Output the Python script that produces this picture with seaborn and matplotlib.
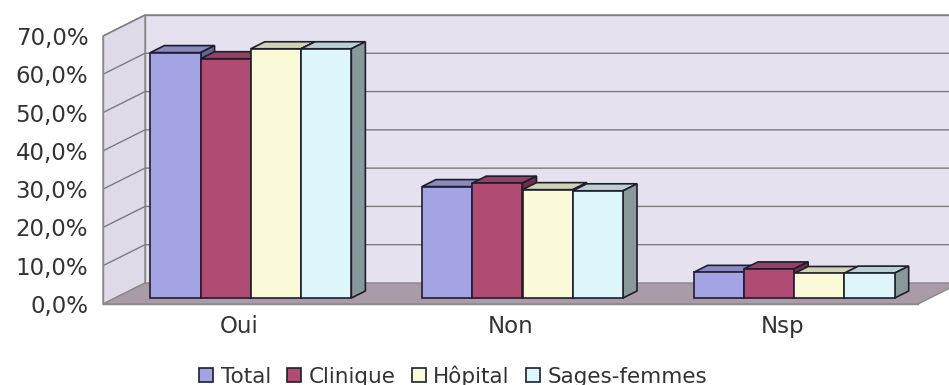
import matplotlib
matplotlib.use("Agg")
import matplotlib.pyplot as plt
import matplotlib.colors as mcolors
from matplotlib.patches import Polygon, Patch
import pandas as pd
import seaborn as sns

# ---- data -------------------------------------------------------------
categories = ["Oui", "Non", "Nsp"]
series = ["Total", "Clinique", "Hôpital", "Sages-femmes"]
total = [64.1, 29.1, 6.7]
clinique = [62.5, 30.0, 7.6]
hopital = [65.1, 28.3, 6.4]
sages_femmes = [65.1, 28.0, 6.5]
y_ticks = [0, 10, 20, 30, 40, 50, 60, 70]
y_tick_labels = ["0,0%", "10,0%", "20,0%", "30,0%", "40,0%", "50,0%", "60,0%", "70,0%"]
colors = ["#a4a4e4", "#b04c74", "#fafad8", "#dcf6fc"]

values = [total, clinique, hopital, sages_femmes]
df = pd.DataFrame({
    "Réponse": categories * len(series),
    "Groupe": [s for s in series for _ in categories],
    "Pourcentage": [v for vals in values for v in vals],
})

# ---- figure geometry (pixels, image rows measured from the top) -------
W, H = 949, 385
X0, X1 = 103, 918          # front edge of the floor
Y0, YTOP = 304, 36         # 0 % and 70 % on the front plane
WALL_DX, WALL_DY = 42, -21  # front plane -> back wall
BAR_DX, BAR_DY = 12, -6     # front plane -> bar front faces
DEPTH_DX, DEPTH_DY = 14, -7  # depth of each bar
TEXT = "#333333"
LINE = "#8a8a8a"
EDGE = "#1e1e2e"

sns.set_style("white")
plt.rcParams["font.family"] = ["DejaVu Sans"]

fig = plt.figure(figsize=(W / 100, H / 100), dpi=100)
fig.patch.set_facecolor("white")

# ---- walls, floor and gridlines --------------------------------------
ax_bg = fig.add_axes([0, 0, 1, 1], zorder=0)
ax_bg.set_xlim(0, W)
ax_bg.set_ylim(H, 0)
ax_bg.axis("off")

ymax = y_ticks[-1]


def row(v):
    return Y0 - (Y0 - YTOP) * v / ymax


side_wall = Polygon([(X0, Y0), (X0, YTOP), (X0 + WALL_DX, YTOP + WALL_DY),
                     (X0 + WALL_DX, Y0 + WALL_DY)],
                    facecolor="#dedae8", edgecolor=LINE, lw=1.0)
back_wall = Polygon([(X0 + WALL_DX, YTOP + WALL_DY), (X1 + WALL_DX, YTOP + WALL_DY),
                     (X1 + WALL_DX, Y0 + WALL_DY), (X0 + WALL_DX, Y0 + WALL_DY)],
                    facecolor="#e5e1ee", edgecolor=LINE, lw=1.0)
floor = Polygon([(X0, Y0), (X1, Y0), (X1 + WALL_DX, Y0 + WALL_DY),
                 (X0 + WALL_DX, Y0 + WALL_DY)],
                facecolor="#a99ba8", edgecolor=LINE, lw=1.0)
for poly in (side_wall, back_wall):
    ax_bg.add_patch(poly)
for v in y_ticks[1:]:
    r = row(v)
    ax_bg.plot([X0, X0 + WALL_DX, X1 + WALL_DX], [r, r + WALL_DY, r + WALL_DY],
               color="#7c7c7c", lw=1.0, solid_capstyle="butt")
ax_bg.add_patch(floor)

# ---- bars ---------------------------------------------------------------
ax_bars = fig.add_axes([(X0 + BAR_DX) / W, (H - (Y0 + BAR_DY)) / H,
                        (X1 - X0) / W, (Y0 - YTOP) / H], zorder=2)
sns.barplot(data=df, x="Réponse", y="Pourcentage", hue="Groupe",
            palette=colors, width=0.74, edgecolor=EDGE, linewidth=1.2,
            saturation=1, legend=False, ax=ax_bars)
ax_bars.set_xlim(-0.5, len(categories) - 0.5)
ax_bars.set_ylim(0, ymax)
ax_bars.axis("off")
ax_bars.patch.set_visible(False)

px_x = (X1 - X0) / len(categories)
px_y = (Y0 - YTOP) / ymax
ddx = DEPTH_DX / px_x
ddy = -DEPTH_DY / px_y


def shade(c, f):
    r, g, b, _ = mcolors.to_rgba(c)
    return (r * f, g * f, b * f)


bars = sorted([p for p in ax_bars.patches if p.get_width() > 0],
              key=lambda p: p.get_x())
for k, p in enumerate(bars):
    x0, w, h = p.get_x(), p.get_width(), p.get_height()
    x1 = x0 + w
    fc = p.get_facecolor()
    top = Polygon([(x0, h), (x1, h), (x1 + ddx, h + ddy), (x0 + ddx, h + ddy)],
                  facecolor=shade(fc, 0.84), edgecolor=EDGE, lw=1.2,
                  zorder=3 * k + 1, clip_on=False)
    side = Polygon([(x1, 0), (x1, h), (x1 + ddx, h + ddy), (x1 + ddx, ddy)],
                   facecolor=shade(fc, 0.62), edgecolor=EDGE, lw=1.2,
                   zorder=3 * k + 2, clip_on=False)
    ax_bars.add_patch(side)
    ax_bars.add_patch(top)
    p.set_zorder(3 * k + 3)
    p.set_clip_on(False)

# ---- front axes: ticks and labels -------------------------------------
ax = fig.add_axes([X0 / W, (H - Y0) / H, (X1 - X0) / W, (Y0 - YTOP) / H], zorder=3)
ax.patch.set_visible(False)
ax.set_xlim(-0.5, len(categories) - 0.5)
ax.set_ylim(0, ymax)
for s in ("top", "right"):
    ax.spines[s].set_visible(False)
for s in ("left", "bottom"):
    ax.spines[s].set_color(LINE)
    ax.spines[s].set_linewidth(1.0)
ax.set_yticks(y_ticks)
ax.set_yticklabels(y_tick_labels)
ax.set_xticks(range(len(categories)))
ax.set_xticklabels(categories)
ax.set_xticks([i - 0.5 for i in range(len(categories) + 1)], minor=True)
ax.tick_params(axis="y", length=3.6, width=1.0, color=LINE, pad=7,
               labelsize=16.5, labelcolor=TEXT, direction="out")
ax.tick_params(axis="x", which="major", length=0, pad=8,
               labelsize=16.5, labelcolor=TEXT)
ax.tick_params(axis="x", which="minor", length=3.6, width=1.0, color=LINE,
               direction="out")
ax.set_xlabel("")
ax.set_ylabel("")

# ---- legend -------------------------------------------------------------
handles = [Patch(facecolor=c, edgecolor=EDGE, lw=1.2) for c in colors]
fig.legend(handles, series, loc="center", bbox_to_anchor=(453 / W, (H - 376) / H),
           ncol=4, frameon=False, fontsize=15.5, labelcolor=TEXT,
           handlelength=0.65, handleheight=0.65, handletextpad=0.35,
           columnspacing=0.75, borderaxespad=0)

fig.savefig("out.png", dpi=100, facecolor="white")
